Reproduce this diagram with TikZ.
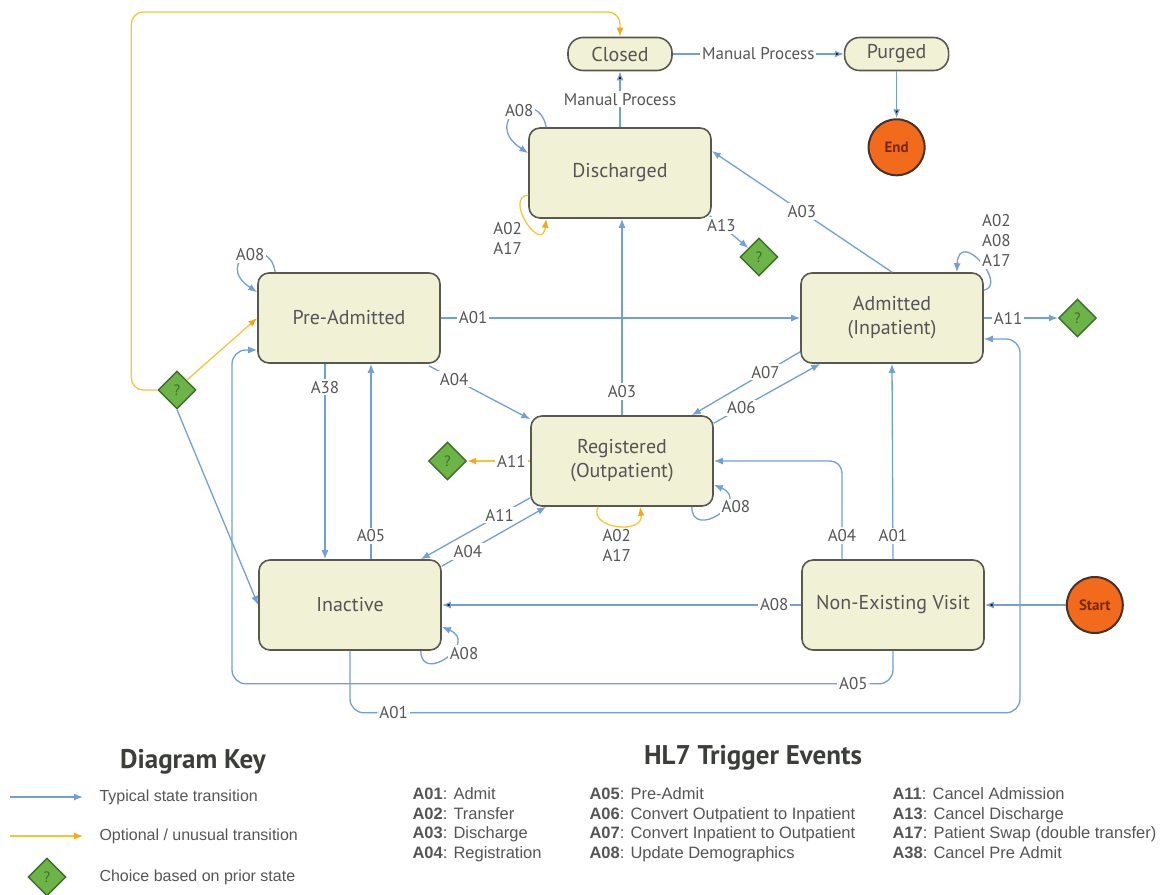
\documentclass[tikz,border=0pt]{standalone}
\usepackage{fontspec}
\setmainfont{Liberation Sans}
\newfontfamily\labelfont{PT Sans}
\usetikzlibrary{shapes.geometric,positioning,calc,arrows.meta}
\definecolor{statefill}{RGB}{241,241,214}
\definecolor{stateline}{RGB}{88,88,78}
\definecolor{lineblue}{RGB}{112,160,214}
\definecolor{lineyellow}{RGB}{245,196,60}
\definecolor{arrowyellow}{RGB}{244,168,28}
\definecolor{termfill}{RGB}{242,106,28}
\definecolor{termline}{RGB}{70,50,40}
\definecolor{termtext}{RGB}{120,40,10}
\definecolor{choicefill}{RGB}{108,180,72}
\definecolor{choiceline}{RGB}{60,110,40}
\definecolor{textgray}{RGB}{85,85,85}
\definecolor{headgray}{RGB}{60,62,58}

\begin{document}
\begin{tikzpicture}[
    x=1pt, y=-1pt,
    >={Latex[length=9pt, width=7pt]},
    statenode/.style={
        rectangle, rounded corners=11pt, draw=stateline, line width=1.6pt,
        fill=statefill, minimum width=182pt, minimum height=90pt, align=center,
        font=\labelfont\fontsize{20}{24}\selectfont, text=textgray
      },
    pillnode/.style={statenode, rounded corners=15pt, minimum width=104pt, minimum height=33pt},
    termnode/.style={
        circle, draw=termline, line width=2pt, fill=termfill, minimum size=56pt,
        inner sep=0pt, font=\labelfont\bfseries\fontsize{15}{17}\selectfont, text=termtext
      },
    choicenode/.style={
        diamond, aspect=1, draw=choiceline, line width=1.4pt, fill=choicefill,
        minimum size=38pt, inner sep=0pt, font=\labelfont\fontsize{15}{16}\selectfont, text=choiceline
      },
    typ/.style={draw=lineblue, line width=1.3pt, ->},
    opt/.style={draw=lineyellow, line width=1.3pt, -{Latex[length=9pt, width=7pt, color=arrowyellow]}},
    lbl/.style={fill=white, inner sep=2pt, align=center, font=\labelfont\fontsize{17}{20}\selectfont, text=textgray},
    headnode/.style={font=\labelfont\bfseries\fontsize{27}{30}\selectfont, text=headgray},
    keytext/.style={anchor=west, font=\fontsize{16}{19}\selectfont, text=textgray},
    evtext/.style={anchor=north west, align=left, font=\fontsize{16.5}{19.7}\selectfont, text=textgray},
  ]
  \useasboundingbox (0,0) rectangle (1169,894);

  % states
  \node[pillnode](Closed) at (620,54) {Closed};
  \node[pillnode](Purged) [right=171pt of Closed] {Purged};
  \node[termnode](End) [below=47pt of Purged] {End};
  \node[statenode](Dis) at (620,173) {Discharged};
  \node[statenode](Pre) at (349,318) {Pre-Admitted};
  \node[statenode](Adm) at (892,318) {Admitted\\(Inpatient)};
  \node[statenode](Reg) at (622,461) {Registered\\(Outpatient)};
  \node[statenode](Inact) at (350,605) {Inactive};
  \node[statenode](NonEx) at (893,605) {Non-Existing Visit};
  \node[termnode](Start) [right=81pt of NonEx] {Start};
  \node[choicenode](PreChoice) at (177,390) {?};
  \node[choicenode](DisChoice) at (759,257) {?};
  \node[choicenode](AdmChoice) [right=74pt of Adm] {?};
  \node[choicenode](RegChoice) [left=63pt of Reg] {?};

  % top
  \path[typ]
    (Closed) edge node[lbl]{Manual Process} (Purged)
    (Purged) edge (End)
    (Dis) edge node[lbl]{Manual Process} (Closed)
  ;
  \draw[opt, rounded corners=12pt] (PreChoice.west) -- ++(-26,0) -- ++(0,-378) -| (Closed.north);
  \draw[opt] (PreChoice.north east) -- (Pre.west);
  \draw[typ] (PreChoice.south) -- (Inact.west);

  % discharged
  \draw[typ] ($(Dis.north west)+(18,0)$) .. controls +(-8,-42) and +(-48,-32) .. ($(Dis.north west)+(0,26)$) node[lbl, pos=0.45]{A08};
  \draw[opt] ($(Dis.west)+(0,22)$) .. controls +(-25,3) and +(-4,36) .. ($(Dis.south west)+(18,0)$) node[lbl, pos=0.55, xshift=-21pt, yshift=-14pt]{A02\\A17};
  \draw[typ] ($(Dis.south east)+(-2,-3)$) -- node[lbl, pos=0.3]{A13} (DisChoice);
  \draw[typ] (Adm.north) -- node[lbl]{A03} ($(Dis.east)+(0,-22)$);
  \draw[typ] (Reg.north) -- node[lbl, pos=0.12]{A03} (Reg.north |- Dis.south);

  % pre-admitted
  \draw[typ] (Pre) -- node[lbl, pos=0.09]{A01} (Adm);
  \draw[typ] ($(Pre.south east)+(-12,2)$) -- node[lbl, pos=0.25]{A04} ($(Reg.north west)+(0,4)$);
  \draw[typ] ($(Pre.north west)+(18,0)$) .. controls +(-6,-40) and +(-45,-30) .. ($(Pre.north west)+(0,20)$) node[lbl, pos=0.45]{A08};
  \draw[typ] ($(Pre.south)+(-24,0)$) -- node[lbl, pos=0.12]{A38} ($(Inact.north)+(-25,0)$);
  \draw[typ] ($(Inact.north)+(21,0)$) -- node[lbl, pos=0.12]{A05} ($(Pre.south)+(22,0)$);

  % admitted
  \draw[typ] ($(Adm.north east)+(0,18)$) .. controls +(25,-5) and +(2,-45) .. ($(Adm.north east)+(-27,0)$) node[lbl, pos=0.5, xshift=16pt, yshift=22pt]{A02\\A08\\A17};
  \draw[typ] (Adm) -- node[lbl, pos=0.33]{A11} (AdmChoice);
  \draw[typ] ($(Adm.south west)+(0,-12)$) -- node[lbl, pos=0.32]{A07} ($(Reg.north east)+(-22,0)$);
  \draw[typ] ($(Reg.north east)+(0,8)$) -- node[lbl, pos=0.26]{A06} ($(Adm.south west)+(20,0)$);

  % registered
  \draw[opt] (Reg) -- node[lbl, pos=0.3]{A11} (RegChoice);
  \draw[typ] ($(Reg.south west)+(0,-9)$) -- node[lbl, pos=0.28]{A11} ($(Inact.north east)+(-21,0)$);
  \draw[typ] ($(Inact.north east)+(0,7)$) -- node[lbl, pos=0.25]{A04} ($(Reg.south west)+(16,0)$);
  \draw[opt] ($(Reg.south)+(-24,0)$) .. controls +(-10,22) and +(4,28) .. ($(Reg.south)+(18,0)$) node[lbl, pos=0.5, yshift=-20pt]{A02\\A17};
  \draw[typ] ($(Reg.south east)+(-22,0)$) .. controls +(0,34) and +(38,16) .. ($(Reg.south east)+(0,-22)$) node[lbl, pos=0.7, xshift=10pt, yshift=-4pt]{A08};

  % inactive and non-existing
  \draw[typ] ($(Inact.south east)+(-21,0)$) .. controls +(0,34) and +(38,16) .. ($(Inact.south east)+(0,-24)$) node[lbl, pos=0.7, xshift=10pt, yshift=-8pt]{A08};
  \draw[typ, rounded corners=12pt] ($(NonEx.north)+(-51,0)$) |- node[lbl, pos=0.12]{A04} (Reg.east);
  \draw[typ] (NonEx.north) -- node[lbl, pos=0.12]{A01} (Adm.south);
  \path[typ]
    (NonEx) edge node[lbl, pos=0.075]{A08} (Inact)
    (Start) edge (NonEx)
  ;
  \draw[typ, rounded corners=14pt] (NonEx.south) -- ++(0,33) -- node[lbl, pos=0.06]{A05} ++(-661,0) |- ($(Pre.west)+(0,32)$);
  \draw[typ, rounded corners=14pt] (Inact.south) -- ++(0,62) -- node[lbl, pos=0.065]{A01} ++(670,0) |- ($(Adm.east)+(0,21)$);

  % key
  \node[headnode](KeyHead) at (193,762) {Diagram Key};
  \coordinate (KeyTypA) at (10,797);
  \coordinate (KeyTypB) at (83,797);
  \coordinate (KeyOptA) at (10,836);
  \coordinate (KeyOptB) at (83,836);
  \draw[typ] (KeyTypA) -- (KeyTypB);
  \draw[opt] (KeyOptA) -- (KeyOptB);
  \node[keytext](KeyTyp) at (96,797) {Typical state transition};
  \node[keytext](KeyOpt) at (96,836) {Optional / unusual transition};
  \node[choicenode](KeyChoice) at (47,877) {?};
  \node[keytext](KeyChc) at (96,877) {Choice based on prior state};

  % trigger events
  \node[headnode](EvHead) at (753,758) {HL7 Trigger Events};
  \node[evtext](EvA) at (409,784) {\textbf{A01}: Admit\\\textbf{A02}: Transfer\\\textbf{A03}: Discharge\\\textbf{A04}: Registration};
  \node[evtext](EvB) at (586,784) {\textbf{A05}: Pre-Admit\\\textbf{A06}: Convert Outpatient to Inpatient\\\textbf{A07}: Convert Inpatient to Outpatient\\\textbf{A08}: Update Demographics};
  \node[evtext](EvC) at (889,784) {\textbf{A11}: Cancel Admission\\\textbf{A13}: Cancel Discharge\\\textbf{A17}: Patient Swap (double transfer)\\\textbf{A38}: Cancel Pre Admit};
\end{tikzpicture}
\end{document}
